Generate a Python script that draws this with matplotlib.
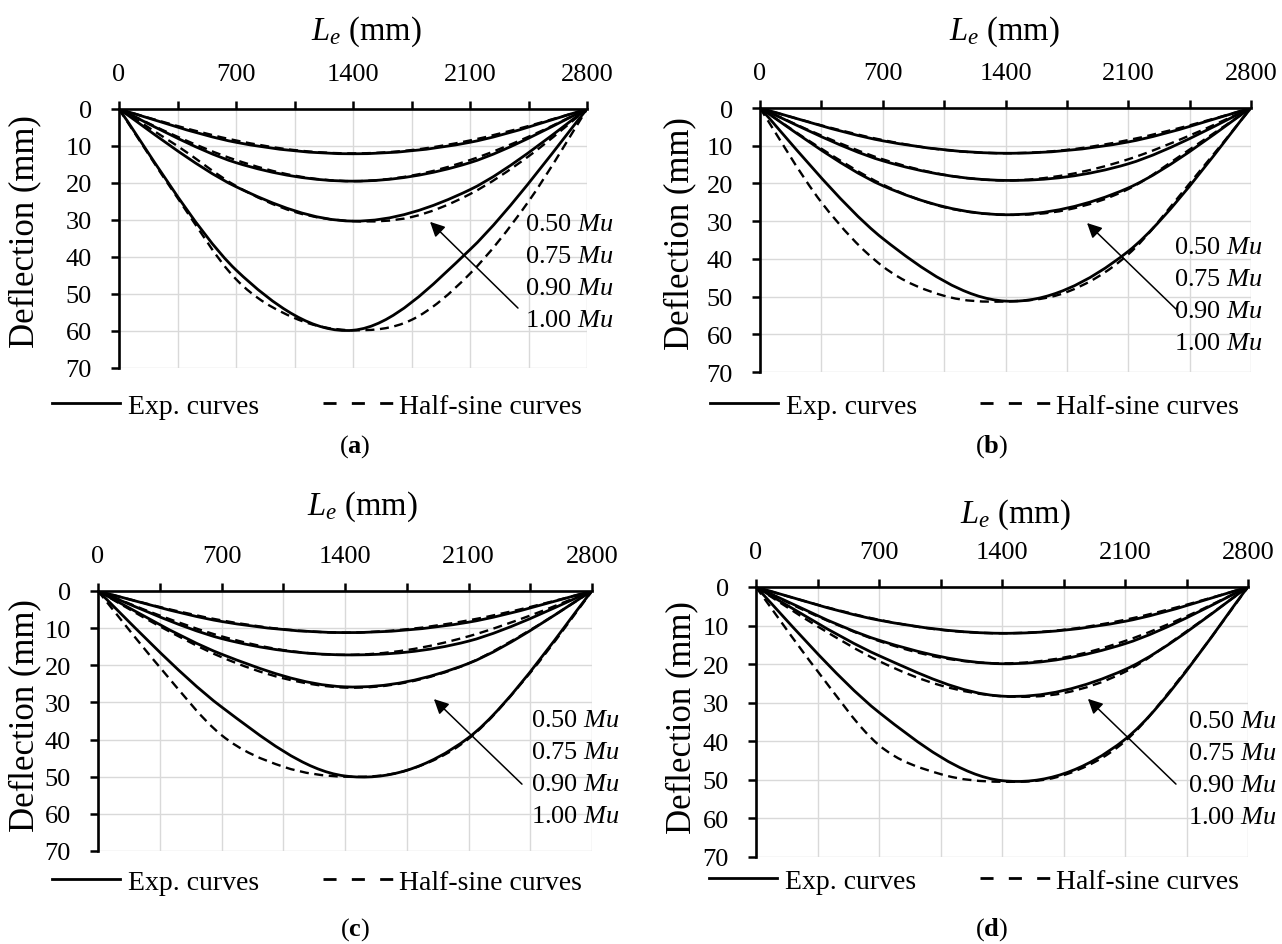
import matplotlib.pyplot as plt
from matplotlib.lines import Line2D
from matplotlib.path import Path
from matplotlib.patches import PathPatch

W, H = 1282, 945

# measuring stations (mm) of the experimental curves and of the half-sine curves
X_EXP = [0, 700, 1400, 2100, 2800]
X_HALF = [0, 350, 700, 1050, 1400, 1750, 2100, 2450, 2800]

LOADS = ["0.50", "0.75", "0.90", "1.00"]

# deflections (mm), one list per load level
EXP_A = [
    [0, 9.0, 12.1, 9.0, 0],
    [0, 14.5, 19.5, 14.5, 0],
    [0, 21.0, 30.3, 21.8, 0],
    [0, 43.5, 59.8, 38.0, 0],
]
HALF_A = [
    [0, 4.6, 8.5, 11.1, 12.0, 11.1, 8.5, 4.6, 0],
    [0, 7.5, 13.8, 18.0, 19.5, 18.0, 13.8, 7.5, 0],
    [0, 10.0, 20.8, 27.8, 30.3, 29.2, 23.0, 12.8, 0],
    [0, 24.0, 46.0, 56.5, 59.8, 57.0, 44.5, 25.0, 0],
]
EXP_B = [
    [0, 8.7, 12.0, 9.0, 0],
    [0, 14.0, 19.2, 14.8, 0],
    [0, 20.6, 28.3, 21.2, 0],
    [0, 34.6, 51.2, 38.0, 0],
]
HALF_B = [
    [0, 4.6, 8.5, 11.1, 12.0, 11.1, 8.5, 4.6, 0],
    [0, 7.3, 13.6, 17.7, 19.2, 17.7, 13.6, 7.3, 0],
    [0, 10.8, 20.3, 26.3, 28.3, 27.0, 21.5, 11.0, 0],
    [0, 25.0, 42.0, 49.8, 51.3, 48.8, 38.8, 20.0, 0],
]
EXP_C = [
    [0, 8.2, 11.2, 8.4, 0],
    [0, 12.8, 17.2, 13.5, 0],
    [0, 17.0, 25.8, 19.5, 0],
    [0, 31.2, 49.8, 39.5, 0],
]
HALF_C = [
    [0, 4.3, 7.9, 10.3, 11.2, 10.3, 7.9, 4.3, 0],
    [0, 6.6, 12.2, 15.9, 17.2, 15.9, 12.2, 6.6, 0],
    [0, 9.5, 17.8, 23.5, 26.0, 24.6, 19.5, 10.5, 0],
    [0, 20.5, 38.8, 47.3, 50.0, 48.3, 39.8, 22.0, 0],
]
EXP_D = [
    [0, 8.6, 12.0, 8.9, 0],
    [0, 13.8, 19.9, 14.7, 0],
    [0, 17.8, 28.3, 21.4, 0],
    [0, 32.5, 50.2, 39.5, 0],
]
HALF_D = [
    [0, 4.6, 8.5, 11.1, 12.0, 11.1, 8.5, 4.6, 0],
    [0, 7.6, 14.0, 18.3, 19.8, 18.3, 14.0, 7.6, 0],
    [0, 10.2, 19.2, 25.5, 28.3, 27.5, 22.0, 11.5, 0],
    [0, 21.8, 41.0, 48.5, 50.5, 48.8, 40.0, 21.5, 0],
]

plt.rcParams["font.family"] = ["Liberation Serif", "DejaVu Serif"]
plt.rcParams["mathtext.fontset"] = "custom"
plt.rcParams["mathtext.rm"] = "Liberation Serif"
plt.rcParams["mathtext.it"] = "Liberation Serif:italic"
plt.rcParams["mathtext.bf"] = "Liberation Serif:bold"
plt.rcParams["lines.scale_dashes"] = False

FS = 19
LEG_FS = 20
DASH = (0, (6.5, 4.0))


def fx(px):
    return px / W


def fy(py):
    return 1 - py / H


# layout of each panel in pixels: axes box, texts and arrow (data coords)
PANELS = [
    dict(exp=EXP_A, half=HALF_A, box=(119, 110, 587, 369), tag="a",
         title=(366, 32), ylab=(25, 232), cap=(355, 447), marks=(525, 225),
         legend=(52, 323, 407), arrow=((1861, 30.5), (2387, 53.8))),
    dict(exp=EXP_B, half=HALF_B, box=(760, 109, 1251, 373), tag="b",
         title=(1004, 32), ylab=(680, 234), cap=(992, 447), marks=(1174, 248),
         legend=(710, 980, 407), arrow=((1865, 30.5), (2372, 53.3))),
    dict(exp=EXP_C, half=HALF_C, box=(98, 592, 592, 852), tag="c",
         title=(362, 507), ylab=(25, 716), cap=(355, 930), marks=(531, 721),
         legend=(52, 323, 883), arrow=((1904, 29.1), (2403, 52.0))),
    dict(exp=EXP_D, half=HALF_D, box=(756, 588, 1248, 858), tag="d",
         title=(1015, 515), ylab=(682, 718), cap=(992, 930), marks=(1188, 722),
         legend=(709, 980, 882), arrow=((1889, 29.0), (2390, 51.1))),
]


def smooth_path(xs, ys):
    # smoothed line like a spreadsheet chart: cubic Bezier pieces through the points
    pts = list(zip(xs, ys))
    n = len(pts)
    verts = [pts[0]]
    codes = [Path.MOVETO]
    for i in range(n - 1):
        p0 = pts[max(i - 1, 0)]
        p1 = pts[i]
        p2 = pts[i + 1]
        p3 = pts[min(i + 2, n - 1)]
        c1 = (p1[0] + (p2[0] - p0[0]) / 6, p1[1] + (p2[1] - p0[1]) / 6)
        c2 = (p2[0] - (p3[0] - p1[0]) / 6, p2[1] - (p3[1] - p1[1]) / 6)
        verts += [c1, c2, p2]
        codes += [Path.CURVE4] * 3
    return Path(verts, codes)


def setup_axis(fig, box):
    x0, y0, x1, y1 = box
    ax = fig.add_axes([fx(x0), fy(y1), (x1 - x0) / W, (y1 - y0) / H])
    ax.set_xlim(0, 2800)
    ax.set_ylim(70, 0)
    ax.xaxis.tick_top()
    ax.set_xticks([0, 700, 1400, 2100, 2800])
    ax.set_xticks([350, 1050, 1750, 2450], minor=True)
    ax.set_yticks(range(0, 71, 10))
    ax.tick_params(axis="x", which="both", direction="out", length=6, width=1.8,
                   pad=11, labelsize=FS)
    ax.tick_params(axis="y", direction="out", length=5.5, width=1.8, pad=14,
                   labelsize=FS)
    ax.grid(True, which="both", color="#d9d9d9", lw=1.0)
    ax.set_axisbelow(True)
    for side in ("right", "bottom"):
        ax.spines[side].set_visible(False)
    for side in ("left", "top"):
        ax.spines[side].set_linewidth(1.9)
    return ax


fig = plt.figure(figsize=(W / 100, H / 100), dpi=100)

for p in PANELS:
    ax = setup_axis(fig, p["box"])
    for ys in p["half"]:
        ax.add_patch(PathPatch(smooth_path(X_HALF, ys), fill=False,
                               edgecolor="black", lw=1.7, linestyle=DASH))
    for ys in p["exp"]:
        ax.add_patch(PathPatch(smooth_path(X_EXP, ys), fill=False,
                               edgecolor="black", lw=2.0))

    head, tail = p["arrow"]
    ax.annotate("", xy=head, xytext=tail,
                arrowprops=dict(arrowstyle="-|>", color="black", lw=1.1,
                                mutation_scale=22, shrinkA=0, shrinkB=0))

    mx, my = p["marks"]
    for k, load in enumerate(LOADS):
        fig.text(fx(mx), fy(my + 32 * k), load + " $Mu$", fontsize=FS,
                 ha="left", va="center")

    tx, ty = p["title"]
    fig.text(fx(tx), fy(ty), "$L_e$ (mm)", fontsize=23.5, ha="center", va="center")
    lx, ly = p["ylab"]
    fig.text(fx(lx), fy(ly), "Deflection (mm)", fontsize=25, rotation=90,
             ha="center", va="center")
    cx, cy = p["cap"]
    fig.text(fx(cx), fy(cy), "($\\mathbf{" + p["tag"] + "}$)", fontsize=FS,
             ha="center", va="center")

    sx, dx, ly2 = p["legend"]
    fig.legend(handles=[Line2D([], [], color="black", lw=2.0)],
               labels=["Exp. curves"], loc="center left",
               bbox_to_anchor=(fx(sx), fy(ly2)), frameon=False, fontsize=LEG_FS,
               borderpad=0, borderaxespad=0, handlelength=2.45, handletextpad=0.29)
    fig.legend(handles=[Line2D([], [], color="black", lw=2.0,
                               linestyle=(0, (9.4, 11.0)))],
               labels=["Half-sine curves"], loc="center left",
               bbox_to_anchor=(fx(dx), fy(ly2)), frameon=False, fontsize=LEG_FS,
               borderpad=0, borderaxespad=0, handlelength=2.52, handletextpad=0.22)

fig.savefig("out.png", dpi=100)
